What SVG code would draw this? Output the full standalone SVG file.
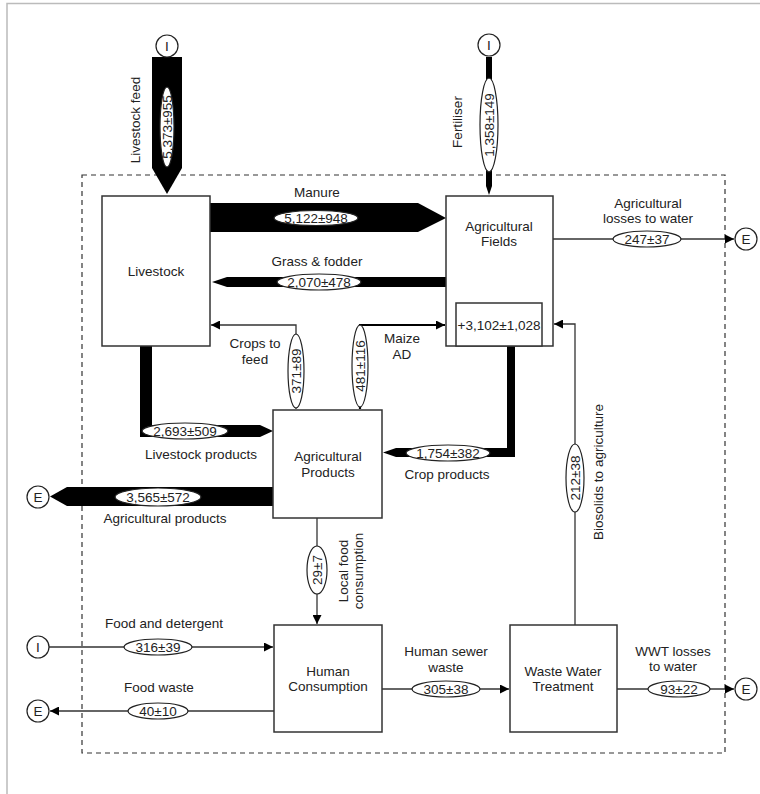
<svg xmlns="http://www.w3.org/2000/svg" width="760" height="794" viewBox="0 0 760 794">
  <style>
    text { font-family: "Liberation Sans", Arial, sans-serif; font-size: 13.5px; fill: #222; }
    .c { text-anchor: middle; }
    .box { fill: #fff; stroke: #333; stroke-width: 1.5; }
    .band { fill: #000; stroke: none; }
    .thin { fill: none; stroke: #333; stroke-width: 1.3; }
    .val { fill: #fff; stroke: #222; stroke-width: 1.2; }
    .term { fill: #fff; stroke: #222; stroke-width: 1.2; }
    .frame { stroke: #bbb; stroke-width: 1.5; fill: none; }
    .boundary { fill: none; stroke: #333; stroke-width: 1.2; stroke-dasharray: 5 4; }
  </style>
  <defs>
    <marker id="arrow" viewBox="0 0 10 10" refX="10" refY="5" markerWidth="9" markerHeight="9" markerUnits="userSpaceOnUse" orient="auto">
      <path d="M0,0 L10,5 L0,10 z" fill="#000"/>
    </marker>
  </defs>

  <rect width="760" height="794" fill="#fff"/>
  <path class="frame" d="M7,794 V3.5 H760"/>

  <!-- system boundary -->
  <rect class="boundary" x="82" y="175" width="643" height="578"/>

  <g id="connectors">
    <!-- thick flows -->
    <g id="flow-livestock-feed">
      <polygon class="band" points="152,57 182,57 182,168 167,194 152,168"/>
      <ellipse class="val" cx="167" cy="127" rx="7" ry="40"/>
      <text class="c" transform="translate(171.5,127) rotate(-90)">5,373±955</text>
      <text class="c" transform="translate(140,120) rotate(-90)">Livestock feed</text>
    </g>
    <g id="flow-fertiliser">
      <polygon class="band" points="486,57 492,57 492,186 489,195 486,186"/>
      <ellipse class="val" cx="489" cy="125" rx="9" ry="47"/>
      <text class="c" transform="translate(493.5,125) rotate(-90)">1,358±149</text>
      <text class="c" transform="translate(462,122) rotate(-90)">Fertiliser</text>
    </g>
    <g id="flow-manure">
      <polygon class="band" points="210,203 418,203 446,218 418,232 210,232"/>
      <text class="c" x="317" y="197">Manure</text>
      <ellipse class="val" cx="316" cy="218" rx="42" ry="7.5"/>
      <text class="c" x="316" y="222.5">5,122±948</text>
    </g>
    <g id="flow-grass">
      <polygon class="band" points="446,277 227,277 212,282 227,287 446,287"/>
      <text class="c" x="317" y="266">Grass &amp; fodder</text>
      <ellipse class="val" cx="319" cy="282" rx="42" ry="8"/>
      <text class="c" x="319" y="286.5">2,070±478</text>
    </g>
    <g id="flow-livestock-products">
      <polygon class="band" points="140,346 152,346 152,425 260,425 273,431 260,437 140,437"/>
      <ellipse class="val" cx="185" cy="431" rx="43" ry="8"/>
      <text class="c" x="185" y="435.5">2,693±509</text>
      <text class="c" x="201" y="459">Livestock products</text>
    </g>
    <g id="flow-crop-products">
      <polygon class="band" points="507,346 515,346 515,457 396,457 383,452.5 396,448 507,448"/>
      <ellipse class="val" cx="448" cy="453" rx="42" ry="8"/>
      <text class="c" x="448" y="457.5">1,754±382</text>
      <text class="c" x="447" y="479">Crop products</text>
    </g>
    <g id="flow-ag-export">
      <polygon class="band" points="273,487 67,487 50,496.5 67,506 273,506"/>
      <ellipse class="val" cx="158" cy="497" rx="43" ry="9"/>
      <text class="c" x="158" y="501.5">3,565±572</text>
      <text class="c" x="165" y="523">Agricultural products</text>
    </g>

    <!-- thin flows -->
    <g id="flow-crops-to-feed">
      <path class="thin" d="M296,409 V325 H211" marker-end="url(#arrow)"/>
      <ellipse class="val" cx="296" cy="371" rx="8" ry="37"/>
      <text class="c" transform="translate(300.5,371) rotate(-90)">371±89</text>
      <text class="c" x="255" y="348">Crops to</text>
      <text class="c" x="255" y="364">feed</text>
    </g>
    <g id="flow-maize-ad">
      <path class="thin" style="stroke:#000;stroke-width:2.2" d="M360,409 V325 H445" marker-end="url(#arrow)"/>
      <ellipse class="val" cx="360" cy="366" rx="8" ry="41"/>
      <text class="c" transform="translate(364.5,366) rotate(-90)">481±116</text>
      <text class="c" x="402" y="343">Maize</text>
      <text class="c" x="402" y="359">AD</text>
    </g>
    <g id="flow-ag-losses">
      <path class="thin" d="M553,239 H734" marker-end="url(#arrow)"/>
      <ellipse class="val" cx="647" cy="239" rx="34" ry="8"/>
      <text class="c" x="647" y="243.5">247±37</text>
      <text class="c" x="648" y="208">Agricultural</text>
      <text class="c" x="648" y="223">losses to water</text>
    </g>
    <g id="flow-local-food">
      <path class="thin" d="M317,518 V624" marker-end="url(#arrow)"/>
      <ellipse class="val" cx="317" cy="570" rx="10" ry="24"/>
      <text class="c" transform="translate(321.5,570) rotate(-90)">29±7</text>
      <text class="c" transform="translate(348,571) rotate(-90)">Local food</text>
      <text class="c" transform="translate(363,571) rotate(-90)">consumption</text>
    </g>
    <g id="flow-food-detergent">
      <path class="thin" d="M49,647 H273" marker-end="url(#arrow)"/>
      <ellipse class="val" cx="158" cy="647" rx="34" ry="8"/>
      <text class="c" x="158" y="651.5">316±39</text>
      <text class="c" x="164" y="628">Food and detergent</text>
    </g>
    <g id="flow-food-waste">
      <path class="thin" d="M274,711 H50" marker-end="url(#arrow)"/>
      <ellipse class="val" cx="158" cy="711" rx="30" ry="8"/>
      <text class="c" x="158" y="715.5">40±10</text>
      <text class="c" x="159" y="692">Food waste</text>
    </g>
    <g id="flow-sewer">
      <path class="thin" d="M382,689 H509" marker-end="url(#arrow)"/>
      <ellipse class="val" cx="446" cy="689" rx="34" ry="8"/>
      <text class="c" x="446" y="693.5">305±38</text>
      <text class="c" x="446" y="656">Human sewer</text>
      <text class="c" x="446" y="672">waste</text>
    </g>
    <g id="flow-wwt-losses">
      <path class="thin" d="M617,689 H734" marker-end="url(#arrow)"/>
      <ellipse class="val" cx="679" cy="689" rx="31" ry="8"/>
      <text class="c" x="679" y="693.5">93±22</text>
      <text class="c" x="673" y="656">WWT losses</text>
      <text class="c" x="673" y="671">to water</text>
    </g>
    <g id="flow-biosolids">
      <path class="thin" d="M575,625 V324 H554" marker-end="url(#arrow)"/>
      <ellipse class="val" cx="575" cy="478" rx="9" ry="34"/>
      <text class="c" transform="translate(579.5,478) rotate(-90)">212±38</text>
      <text class="c" transform="translate(603,472) rotate(-90)">Biosolids to agriculture</text>
    </g>
  </g>

  <!-- processes -->
  <g id="livestock">
    <rect class="box" x="102" y="196" width="108" height="150"/>
    <text class="c" x="156" y="276">Livestock</text>
  </g>
  <g id="agricultural-fields">
    <rect class="box" x="446" y="196" width="107" height="150"/>
    <rect class="box" x="456" y="303" width="86" height="43"/>
    <text class="c" x="499" y="231">Agricultural</text>
    <text class="c" x="499" y="246">Fields</text>
    <text class="c" x="499" y="330">+3,102±1,028</text>
  </g>
  <g id="agricultural-products">
    <rect class="box" x="273" y="410" width="109" height="108"/>
    <text class="c" x="328" y="461">Agricultural</text>
    <text class="c" x="328" y="477">Products</text>
  </g>
  <g id="human-consumption">
    <rect class="box" x="274" y="625" width="108" height="107"/>
    <text class="c" x="328" y="676">Human</text>
    <text class="c" x="328" y="691">Consumption</text>
  </g>
  <g id="waste-water-treatment">
    <rect class="box" x="510" y="625" width="107" height="107"/>
    <text class="c" x="563" y="676">Waste Water</text>
    <text class="c" x="563" y="691">Treatment</text>
  </g>

  <!-- imports (I) and exports (E) -->
  <g id="import-feed"><circle class="term" cx="167" cy="46" r="11"/><text class="c" x="167" y="50.5">I</text></g>
  <g id="import-fertiliser"><circle class="term" cx="489" cy="45" r="11"/><text class="c" x="489" y="49.5">I</text></g>
  <g id="export-ag-losses"><circle class="term" cx="746" cy="239" r="11"/><text class="c" x="746" y="243.5">E</text></g>
  <g id="export-ag-products"><circle class="term" cx="38" cy="497" r="11"/><text class="c" x="38" y="501.5">E</text></g>
  <g id="import-food"><circle class="term" cx="38" cy="647" r="11"/><text class="c" x="38" y="651.5">I</text></g>
  <g id="export-food-waste"><circle class="term" cx="38" cy="711" r="11"/><text class="c" x="38" y="715.5">E</text></g>
  <g id="export-wwt"><circle class="term" cx="746" cy="689" r="11"/><text class="c" x="746" y="693.5">E</text></g>
</svg>
